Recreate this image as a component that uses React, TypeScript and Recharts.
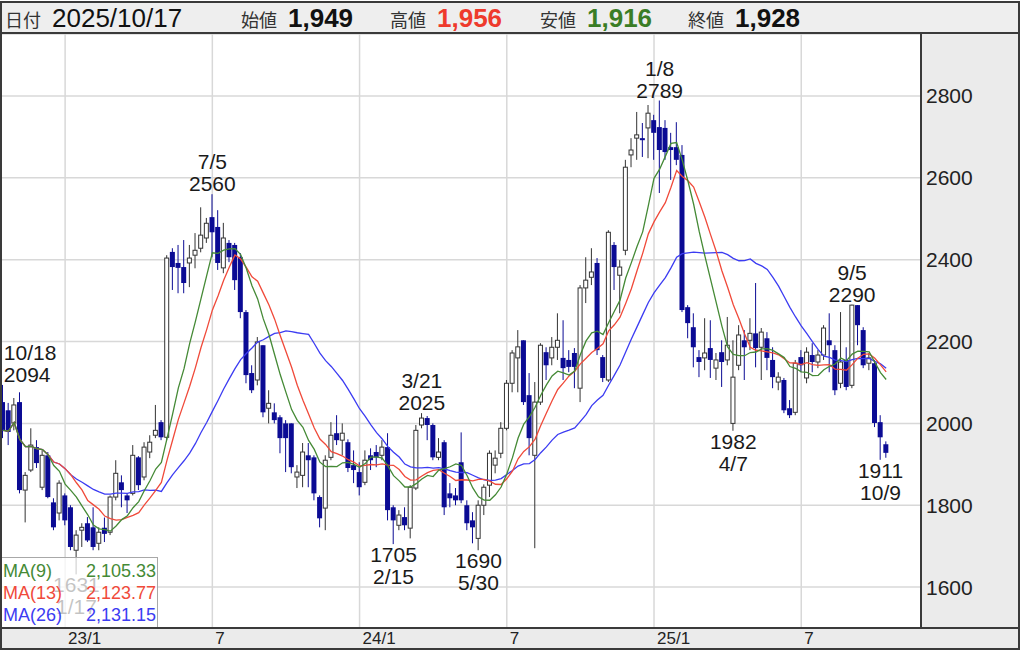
import {
  ComposedChart,
  Bar,
  Line,
  XAxis,
  YAxis,
  CartesianGrid,
  ReferenceDot,
} from "recharts";

const FONT = '"Liberation Sans", Arial, "Noto Sans CJK JP", sans-serif';

// weekly candles, week of 2022/10/17 (index 0) .. week of 2025/10/13 (index 156)
const opens = [
  2052, 2032, 2001, 2052, 1837, 1886, 1942, 1844, 1922, 1807,
  1781, 1824, 1795, 1690, 1739, 1756, 1746, 1707, 1745, 1734,
  1820, 1856, 1824, 1829, 1917, 1869, 1930, 1971, 2003, 1966,
  2419, 2392, 2382, 2392, 2411, 2428, 2453, 2504, 2480, 2380,
  2441, 2436, 2406, 2272, 2123, 2106, 2191, 2037, 2027, 2015,
  2000, 2000, 1869, 1873, 1922, 1917, 1820, 1793, 1917, 1976,
  1959, 1954, 1898, 1881, 1856, 1922, 1930, 1922, 1942, 1795,
  1751, 1771, 1744, 1842, 1996, 2013, 1996, 1917, 1954, 1829,
  1824, 1905, 1800, 1763, 1719, 1800, 1849, 1898, 1927, 1988,
  2098, 2160, 2203, 2069, 1922, 2052, 2174, 2160, 2186, 2160,
  2155, 2172, 2086, 2331, 2357, 2392, 2162, 2106, 2436, 2362,
  2423, 2656, 2697, 2697, 2722, 2741, 2724, 2722, 2675, 2675,
  2656, 2284, 2235, 2162, 2160, 2184, 2135, 2174, 2155, 2000,
  2142, 2203, 2203, 2220, 2186, 2208, 2155, 2101, 2106, 2037,
  2027, 2162, 2111, 2167, 2150, 2167, 2203, 2179, 2098, 2155,
  2093, 2289, 2228, 2147, 2147, 2003, 1949,
];
const highs = [
  2094, 2050, 2062, 2076, 1881, 1988, 1959, 1934, 1930, 1817,
  1861, 1829, 1800, 1739, 1756, 1771, 1795, 1746, 1770, 1824,
  1910, 1873, 1829, 1947, 1920, 1954, 1971, 2045, 2008, 2411,
  2428, 2436, 2448, 2436, 2465, 2528, 2502, 2560, 2521, 2490,
  2448, 2441, 2416, 2277, 2142, 2211, 2191, 2081, 2049, 2020,
  2008, 2000, 1898, 1952, 1952, 1922, 1824, 1922, 2003, 2020,
  2000, 1961, 1934, 1905, 1934, 1939, 1947, 1959, 1976, 1800,
  1788, 1795, 1849, 1996, 2025, 2018, 2000, 1964, 1959, 1854,
  1842, 1978, 1812, 1783, 1812, 1851, 1934, 1934, 2003, 2106,
  2179, 2228, 2203, 2123, 2101, 2196, 2186, 2211, 2269, 2252,
  2179, 2184, 2338, 2406, 2428, 2404, 2167, 2472, 2443, 2399,
  2644, 2697, 2761, 2734, 2778, 2754, 2789, 2741, 2710, 2736,
  2680, 2289, 2269, 2179, 2257, 2252, 2172, 2203, 2260, 2203,
  2240, 2228, 2257, 2343, 2233, 2223, 2186, 2125, 2111, 2057,
  2155, 2179, 2186, 2196, 2179, 2240, 2269, 2191, 2272, 2186,
  2290, 2289, 2235, 2172, 2155, 2020, 1956,
];
const lows = [
  1964, 1947, 1983, 1829, 1758, 1881, 1891, 1837, 1817, 1739,
  1763, 1751, 1690, 1631, 1698, 1710, 1690, 1690, 1710, 1727,
  1812, 1795, 1781, 1824, 1837, 1861, 1915, 1964, 1959, 1959,
  2326, 2318, 2318, 2333, 2379, 2418, 2441, 2406, 2375, 2367,
  2394, 2326, 2257, 2098, 2074, 2093, 2015, 2000, 2000, 1927,
  1881, 1878, 1842, 1844, 1844, 1812, 1746, 1739, 1910, 1947,
  1922, 1881, 1854, 1824, 1849, 1886, 1893, 1910, 1763, 1705,
  1739, 1739, 1719, 1837, 1988, 1959, 1910, 1910, 1776, 1795,
  1800, 1805, 1739, 1707, 1690, 1776, 1820, 1878, 1915, 1983,
  2076, 2076, 2045, 1922, 1695, 2045, 2106, 2142, 2155, 2106,
  2125, 2086, 2052, 2294, 2338, 2167, 2101, 2101, 2326, 2269,
  2411, 2626, 2644, 2651, 2648, 2644, 2563, 2644, 2595, 2631,
  2272, 2208, 2137, 2113, 2130, 2111, 2106, 2089, 2142, 1982,
  2130, 2106, 2179, 2137, 2106, 2130, 2086, 2081, 2025, 2013,
  2020, 2125, 2098, 2125, 2135, 2155, 2125, 2069, 2086, 2081,
  2086, 2191, 2135, 2130, 1991, 1911, 1916,
];
const closes = [
  1983, 1979, 2045, 1837, 1873, 1947, 1903, 1922, 1820, 1746,
  1854, 1763, 1698, 1727, 1746, 1714, 1698, 1734, 1730, 1820,
  1878, 1837, 1812, 1922, 1849, 1942, 1954, 1983, 1966, 2404,
  2382, 2380, 2343, 2404, 2423, 2460, 2489, 2467, 2392, 2453,
  2406, 2350, 2272, 2118, 2081, 2199, 2027, 2049, 2008, 1964,
  1964, 1893, 1881, 1930, 1910, 1829, 1768, 1910, 1971, 1959,
  1976, 1891, 1886, 1844, 1910, 1910, 1917, 1942, 1788, 1763,
  1776, 1751, 1844, 1983, 2013, 1996, 1917, 1930, 1795, 1817,
  1812, 1812, 1756, 1746, 1800, 1844, 1927, 1915, 1988, 2098,
  2172, 2187, 2052, 1964, 2052, 2191, 2142, 2186, 2203, 2135,
  2138, 2138, 2331, 2350, 2370, 2179, 2111, 2467, 2382, 2382,
  2626, 2668, 2705, 2692, 2758, 2710, 2668, 2663, 2668, 2644,
  2277, 2245, 2186, 2150, 2172, 2155, 2155, 2150, 2191, 2113,
  2216, 2186, 2220, 2184, 2223, 2160, 2113, 2113, 2032, 2020,
  2147, 2142, 2174, 2150, 2167, 2233, 2191, 2081, 2150, 2089,
  2289, 2240, 2142, 2160, 2001, 1966, 1928,
];

const xTickIndex = [11, 37, 63, 89, 115, 141];
const xTickLabels = ["23/1", "7", "24/1", "7", "25/1", "7"];
const yTicks = [1600, 1800, 2000, 2200, 2400, 2600, 2800];

// high / low markers
const markIndex = [0, 13, 37, 69, 74, 84, 116, 129, 150, 155];
const markValue = [2094, 1631, 2560, 1705, 2025, 1690, 2789, 1982, 2290, 1911];
const markDate = ["10/18", "1/17", "7/5", "2/15", "3/21", "5/30", "1/8", "4/7", "9/5", "10/9"];
const markSide = ["high", "low", "high", "low", "high", "low", "high", "low", "high", "low"];

const maNames = ["MA(9)", "MA(13)", "MA(26)"];
const maColors = ["#458a36", "#f04a3a", "#3c3cf2"];
const legendValues = ["2,105.33", "2,123.77", "2,131.15"];

const headerDate = "2025/10/17";
const headerLabels = ["始値", "高値", "安値", "終値"];
const headerValues = ["1,949", "1,956", "1,916", "1,928"];
const headerColors = ["#111", "#ee3a2c", "#3a7d25", "#111"];

const UP = "#333";
const DOWN = "#0b0b94";

function movingAverage(values: number[], n: number) {
  return values.map((_, k) => {
    const part = values.slice(Math.max(0, k - n + 1), k + 1);
    return part.reduce((a, b) => a + b, 0) / part.length;
  });
}

const ma9 = movingAverage(closes, 9);
const ma13 = movingAverage(closes, 13);
const ma26 = movingAverage(closes, 26);

const data = closes.map((c, i) => ({
  i,
  o: opens[i],
  h: highs[i],
  l: lows[i],
  c,
  range: [lows[i], highs[i]],
  ma9: ma9[i],
  ma13: ma13[i],
  ma26: ma26[i],
}));

const Candle = (props: any) => {
  const { x, y, width, height, payload } = props;
  if (!payload) return null;
  const { o, h, l, c } = payload;
  const top = Math.min(y, y + height);
  const span = Math.abs(height);
  const k = h > l ? span / (h - l) : 0;
  const yOf = (v: number) => top + (h - v) * k;
  const cx = x + width / 2;
  const up = c >= o;
  const bTop = yOf(Math.max(o, c));
  const bBot = yOf(Math.min(o, c));
  return (
    <g>
      <line x1={cx} x2={cx} y1={top} y2={top + span} stroke={up ? UP : DOWN} strokeWidth={1} />
      {up ? (
        <rect x={cx - 2} y={bTop} width={4} height={Math.max(bBot - bTop, 1)} fill="#fff" stroke={UP} strokeWidth={1} />
      ) : (
        <rect x={cx - 2.5} y={bTop} width={5} height={Math.max(bBot - bTop, 1.5)} fill={DOWN} />
      )}
    </g>
  );
};

const MarkLabel = (props: any) => {
  const { viewBox, date, value, side } = props;
  if (!viewBox) return null;
  const cx = viewBox.x + viewBox.width / 2;
  const cy = viewBox.y + viewBox.height / 2;
  const anchor = cx < 30 ? "start" : "middle";
  const tx = cx < 30 ? cx + 1 : cx;
  const style = { fontFamily: FONT, fontSize: 21, fill: "#1a1a1a" };
  if (side === "high") {
    return (
      <g>
        <text x={tx} y={cy - 25} textAnchor={anchor} {...style}>{date}</text>
        <text x={tx} y={cy - 3} textAnchor={anchor} {...style}>{value}</text>
      </g>
    );
  }
  return (
    <g>
      <text x={tx} y={cy + 18} textAnchor={anchor} {...style}>{value}</text>
      <text x={tx} y={cy + 40} textAnchor={anchor} {...style}>{date}</text>
    </g>
  );
};

const XTick = (props: any) => {
  const { x, y, payload } = props;
  const k = xTickIndex.indexOf(payload.value);
  return (
    <text x={x + 3} y={y + 16} textAnchor="start" fontFamily={FONT} fontSize={17} fill="#222">
      {k >= 0 ? xTickLabels[k] : ""}
    </text>
  );
};

export default function App() {
  const headerX = [241, 390, 540, 688];
  return (
    <div style={{ position: "relative", width: 1024, height: 652, background: "#fff", overflow: "hidden" }}>
      <style>{"body{margin:0}"}</style>

      {/* panels under the chart */}
      <svg width={1024} height={652} style={{ position: "absolute", left: 0, top: 0 }}>
        <rect x={921} y={34} width={98} height={594} fill="#ebebeb" />
        <rect x={0} y={628} width={1019} height={21} fill="#ebebeb" />
      </svg>

      <div style={{ position: "absolute", left: 0, top: 34 }}>
        <ComposedChart width={1020} height={615} data={data} margin={{ top: 0, right: 0, bottom: 0, left: 0 }}>
          <CartesianGrid stroke="#d8d8d8" strokeWidth={1.5} />
          <XAxis
            dataKey="i"
            type="category"
            ticks={xTickIndex}
            interval={0}
            tick={<XTick />}
            tickLine={false}
            axisLine={false}
            tickSize={0}
            tickMargin={0}
            height={21}
            padding={{ left: 0, right: 32 }}
          />
          <YAxis
            orientation="right"
            width={99}
            domain={[1500, 2951.5]}
            ticks={yTicks}
            allowDataOverflow
            tickLine={false}
            axisLine={false}
            tickSize={0}
            tickMargin={5}
            tick={{ fill: "#222", fontSize: 21, fontFamily: FONT }}
          />
          <Bar dataKey="range" barSize={5} shape={<Candle />} isAnimationActive={false} />
          <Line type="linear" dataKey="ma26" stroke={maColors[2]} strokeWidth={1.3} dot={false} isAnimationActive={false} />
          <Line type="linear" dataKey="ma13" stroke={maColors[1]} strokeWidth={1.3} dot={false} isAnimationActive={false} />
          <Line type="linear" dataKey="ma9" stroke={maColors[0]} strokeWidth={1.3} dot={false} isAnimationActive={false} />
          {markIndex.map((idx, k) => (
            <ReferenceDot
              key={k}
              x={idx}
              y={markValue[k]}
              r={0}
              fill="none"
              stroke="none"
              label={<MarkLabel date={markDate[k]} value={markValue[k]} side={markSide[k]} />}
            />
          ))}
        </ComposedChart>
      </div>

      {/* header, legend and frame on top */}
      <svg width={1024} height={652} style={{ position: "absolute", left: 0, top: 0, pointerEvents: "none" }}>
        <rect x={0} y={1} width={1020} height={32} fill="#eeeeee" />
        <text x={5} y={27} fontFamily={FONT} fontSize={18} fill="#333">日付</text>
        <text x={52} y={27} fontFamily={FONT} fontSize={26} fill="#111">{headerDate}</text>
        {headerLabels.map((lab, k) => (
          <g key={lab}>
            <text x={headerX[k]} y={27} fontFamily={FONT} fontSize={18} fill="#333">{lab}</text>
            <text x={headerX[k] + 47} y={27} fontFamily={FONT} fontSize={26} fontWeight="bold" fill={headerColors[k]}>
              {headerValues[k]}
            </text>
          </g>
        ))}

        <rect x={0.5} y={557.5} width={157} height={70} fill="rgba(255,255,255,0.74)" stroke="#a8a8a8" strokeWidth={1} />
        {maNames.map((name, k) => (
          <g key={name}>
            <text x={3} y={577 + k * 22} fontFamily={FONT} fontSize={18} fill={maColors[k]}>{name}</text>
            <text x={156} y={577 + k * 22} textAnchor="end" fontFamily={FONT} fontSize={18} fill={maColors[k]}>
              {legendValues[k]}
            </text>
          </g>
        ))}

        <g stroke="#3a3a3a" strokeWidth={2} fill="none">
          <line x1={0} x2={1020} y1={2} y2={2} />
          <line x1={0} x2={1020} y1={33} y2={33} />
          <line x1={1} x2={1} y1={1} y2={649} />
          <line x1={1019} x2={1019} y1={1} y2={649} />
          <line x1={921} x2={921} y1={33} y2={628} />
          <line x1={0} x2={1020} y1={628} y2={628} />
          <line x1={0} x2={1020} y1={649} y2={649} />
        </g>
      </svg>
    </div>
  );
}
